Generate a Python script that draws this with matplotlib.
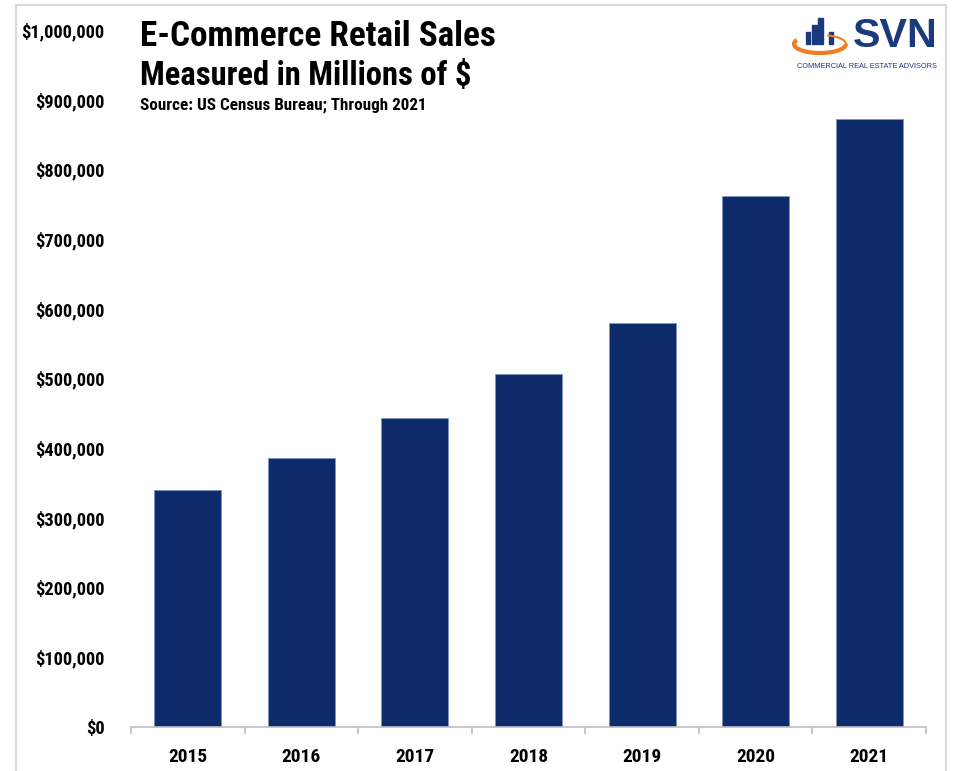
import matplotlib
matplotlib.use('Agg')
import matplotlib.pyplot as plt
from matplotlib import font_manager
from matplotlib.patches import Rectangle, Arc
from matplotlib.ticker import FuncFormatter

# pick the narrowest bold sans that is installed
installed = {f.name for f in font_manager.fontManager.ttflist}
narrow = [n for n in ['Liberation Sans Narrow', 'Roboto Condensed',
                      'Open Sans Condensed', 'DejaVu Sans Condensed']
          if n in installed]
plt.rcParams['font.family'] = narrow + ['DejaVu Sans']
plt.rcParams['font.stretch'] = 'condensed'

years = ['2015', '2016', '2017', '2018', '2019', '2020', '2021']
sales = [340000, 386000, 444000, 506000, 580000, 762000, 872000]

NAVY = '#0d2a6b'
W, H = 954, 771

fig = plt.figure(figsize=(W / 100, H / 100), dpi=100)
renderer = fig.canvas.get_renderer()


def fit_width(txt, target_px):
    # scale a text's font size so that it spans target_px
    w = txt.get_window_extent(renderer).width
    txt.set_fontsize(txt.get_fontsize() * target_px / w)


# light frame around the whole chart
frame = Rectangle((16 / W, -0.1), (946 - 16) / W, (H - 5.5) / H + 0.1,
                  transform=fig.transFigure, fill=False,
                  edgecolor='#d9d9d9', linewidth=1.5)
fig.patches.append(frame)

ax = fig.add_axes([131 / W, (H - 727) / H, (926 - 131) / W, (727 - 30) / H])
x = range(len(years))
ax.bar(x, sales, width=0.59, color=NAVY, edgecolor='#7f93c0', linewidth=0.6)

ax.set_ylim(0, 1000000)
ax.set_xlim(-0.5, len(years) - 0.5)
ax.set_yticks(range(0, 1000001, 100000))
ax.yaxis.set_major_formatter(FuncFormatter(lambda v, p: f"${v:,.0f}"))
ax.set_xticks(list(x))
ax.set_xticklabels(years)
ax.set_xticks([i - 0.5 for i in range(len(years) + 1)], minor=True)

for s in ['top', 'right', 'left']:
    ax.spines[s].set_visible(False)
ax.spines['bottom'].set_color('#bfbfbf')
ax.spines['bottom'].set_linewidth(1.2)

# size the tick labels from the widest one of each axis
probe = fig.text(0, 0, '$1,000,000', fontsize=13, fontweight='bold')
fit_width(probe, 83)
ysize = probe.get_fontsize()
probe.set_text('2015')
probe.set_fontsize(14)
fit_width(probe, 39)
xsize = probe.get_fontsize()
probe.remove()

ax.tick_params(axis='y', length=0, pad=19, labelsize=ysize)
ax.tick_params(axis='x', which='major', length=0, pad=15, labelsize=xsize)
ax.tick_params(axis='x', which='minor', length=5, width=1.2, color='#bfbfbf')
for lbl in ax.get_yticklabels() + ax.get_xticklabels():
    lbl.set_fontweight('bold')

# title block
t1 = fig.text(140 / W, 1 - 37 / H, 'E-Commerce Retail Sales', fontsize=25,
              fontweight='black', va='center', ha='left')
fit_width(t1, 357)
t2 = fig.text(140 / W, 1 - 76 / H, 'Measured in Millions of $', fontsize=21.5,
              fontweight='black', va='center', ha='left')
fit_width(t2, 333)
t3 = fig.text(140 / W, 1 - 105 / H, 'Source: US Census Bureau; Through 2021',
              fontsize=11.5, fontweight='bold', va='center', ha='left')
fit_width(t3, 288)

# company logo, drawn in pixel coordinates
lg = fig.add_axes([790 / W, 1 - 78 / H, 155 / W, 65 / H])
lg.set_xlim(790, 945)
lg.set_ylim(78, 13)
lg.axis('off')
logo_blue = '#1b3a7d'
for x0, x1, top in [(806, 810, 32), (812, 817, 25), (818, 823, 18), (829, 833, 32)]:
    lg.add_patch(Rectangle((x0, top), x1 - x0, 44 - top, color=logo_blue))
lg.add_patch(Arc((820, 44), 52, 18, theta1=0, theta2=190,
                 color='#f07d22', linewidth=3))
lg.add_patch(Arc((820, 44), 52, 18, theta1=310, theta2=360,
                 color='#f07d22', linewidth=1.5))
svn = lg.text(853, 36, 'SVN', fontsize=29, color=logo_blue, va='center',
              ha='left', fontweight='bold',
              family=['Liberation Sans', 'DejaVu Sans'], stretch='normal')
fit_width(svn, 85)
tag = lg.text(867, 67, 'COMMERCIAL REAL ESTATE ADVISORS', fontsize=4.3,
              color=logo_blue, va='center', ha='center',
              family=['Liberation Sans', 'DejaVu Sans'], stretch='normal')
fit_width(tag, 140)

fig.savefig('out.png', dpi=100)
